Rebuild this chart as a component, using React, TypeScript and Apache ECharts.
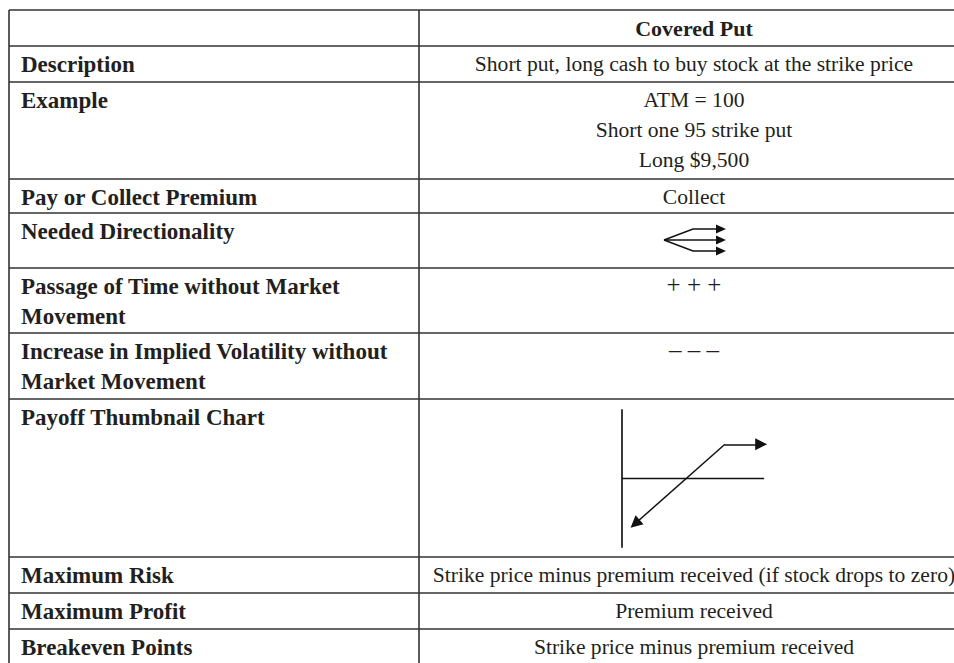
import React, { useEffect, useRef } from "react";
import * as echarts from "echarts";

// ---- data (table content) ----
const rowLabels: string[] = [
  "",
  "Description",
  "Example",
  "Pay or Collect Premium",
  "Needed Directionality",
  "Passage of Time without Market\nMovement",
  "Increase in Implied Volatility without\nMarket Movement",
  "Payoff Thumbnail Chart",
  "Maximum Risk",
  "Maximum Profit",
  "Breakeven Points",
];
const strategyName = "Covered Put";
const cellValues: string[] = [
  strategyName,
  "Short put, long cash to buy stock at the strike price",
  "ATM = 100\nShort one 95 strike put\nLong $9,500",
  "Collect",
  "",
  "+ + +",
  "\u2013 \u2013 \u2013",
  "",
  "Strike price minus premium received (if stock drops to zero)",
  "Premium received",
  "Strike price minus premium received",
];
// rows whose value is a symbol string (drawn slightly larger)
const symbolRows = [5, 6];

// payoff thumbnail (value space)
const payoffLine: number[][] = [
  [7.1, 2.5],
  [0.9, -3.3],
];
const payoffFlat: number[][] = [
  [7.1, 2.5],
  [9.6, 2.5],
];
const zeroLine: number[][] = [
  [0, 0],
  [9.8, 0],
];

// ---- layout ----
const W = 954;
const H = 663;
const tableLeft = 9;
const colDivider = 419;
const tableRight = 990;
const tableTop = 10;
const rowBottoms = [46, 82, 179, 213, 268, 333, 399, 557, 593, 629, 720];
const col2Center = 694;
const labelX = 21;
const lineH = 30;
const textColor = "#231f20";
const borderColor = "#333333";
const serif = '"Liberation Serif", "Times New Roman", serif';

function buildGraphics() {
  const els: any[] = [];
  const tops = [tableTop, ...rowBottoms.slice(0, -1)];
  // horizontal rules
  [tableTop, ...rowBottoms.slice(0, -1)].forEach((y) => {
    els.push({
      type: "line",
      shape: { x1: tableLeft, y1: y, x2: tableRight, y2: y },
      style: { stroke: borderColor, lineWidth: 1.6 },
      silent: true,
    });
  });
  // vertical rules
  [tableLeft, colDivider].forEach((x) => {
    els.push({
      type: "line",
      shape: { x1: x, y1: tableTop, x2: x, y2: H + 10 },
      style: { stroke: borderColor, lineWidth: 1.6 },
      silent: true,
    });
  });
  // texts
  rowLabels.forEach((label, i) => {
    if (!label) return;
    els.push({
      type: "text",
      style: {
        text: label,
        x: labelX,
        y: tops[i] + 3,
        align: "left",
        verticalAlign: "top",
        lineHeight: lineH,
        font: `bold 23px ${serif}`,
        fill: textColor,
      },
      silent: true,
    });
  });
  cellValues.forEach((val, i) => {
    if (!val) return;
    const isSym = symbolRows.indexOf(i) >= 0;
    const size = i === 0 ? 22 : isSym ? 25 : 21.6;
    els.push({
      type: "text",
      style: {
        text: val,
        x: col2Center,
        y: tops[i] + 3 + (isSym ? -2 : 0),
        align: "center",
        verticalAlign: "top",
        lineHeight: lineH,
        font: `${i === 0 ? "bold " : ""}${size}px ${serif}`,
        fill: textColor,
      },
      silent: true,
    });
  });
  // needed directionality icon
  const dirTop = tops[4];
  const ax = col2Center - 30;
  const ay = dirTop + 27;
  const offs = [-11, 0, 11];
  offs.forEach((dy) => {
    const pts =
      dy === 0
        ? [
            [ax, ay],
            [ax + 53, ay],
          ]
        : [
            [ax, ay],
            [ax + 29, ay + dy],
            [ax + 53, ay + dy],
          ];
    els.push({
      type: "polyline",
      shape: { points: pts },
      style: { stroke: "#111", lineWidth: 1.4, fill: null },
      silent: true,
    });
    els.push({
      type: "polygon",
      shape: {
        points: [
          [ax + 52, ay + dy - 4.5],
          [ax + 62, ay + dy],
          [ax + 52, ay + dy + 4.5],
        ],
      },
      style: { fill: "#111" },
      silent: true,
    });
  });
  return els;
}

export default function App() {
  const ref = useRef<HTMLDivElement>(null);
  useEffect(() => {
    if (!ref.current) return;
    const chart = echarts.init(ref.current, null, { renderer: "svg" });
    const option: any = {
      animation: false,
      backgroundColor: "#ffffff",
      grid: { left: 622, top: 410, width: 145, height: 137 },
      xAxis: {
        type: "value",
        min: 0,
        max: 10,
        show: false,
      },
      yAxis: {
        type: "value",
        min: -5,
        max: 5,
        axisLine: { show: true, onZero: false, lineStyle: { color: "#3a3a3a", width: 2 } },
        axisTick: { show: false },
        axisLabel: { show: false },
        splitLine: { show: false },
      },
      graphic: buildGraphics(),
      series: [
        {
          type: "line",
          data: zeroLine,
          showSymbol: false,
          symbol: "none",
          lineStyle: { color: "#111", width: 1.5 },
          silent: true,
        },
        {
          type: "lines",
          coordinateSystem: "cartesian2d",
          symbol: ["none", "triangle"],
          symbolSize: 12,
          lineStyle: { color: "#111", width: 1.5, opacity: 1 },
          itemStyle: { color: "#111" },
          silent: true,
          data: [{ coords: payoffLine }, { coords: payoffFlat }],
        },
      ],
    };
    chart.setOption(option);
    return () => chart.dispose();
  }, []);
  return (
    <div
      ref={ref}
      style={{ position: "fixed", left: 0, top: 0, width: W, height: H, background: "#fff" }}
    />
  );
}
